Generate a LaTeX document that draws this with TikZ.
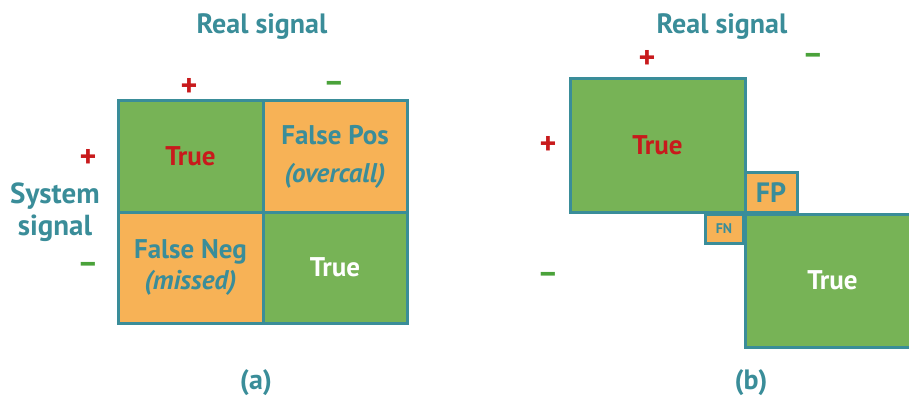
\documentclass[tikz,border=0pt]{standalone}
\usepackage{fontspec}
\setmainfont{PT Sans}
\usepackage{xcolor}
\usepackage{tikz}
\usetikzlibrary{positioning, calc}
\definecolor{tealtext}{HTML}{3A8D99}
\definecolor{cellgreen}{HTML}{77B356}
\definecolor{cellorange}{HTML}{F7B256}
\definecolor{plusred}{HTML}{C81A1C}
\definecolor{minusgreen}{HTML}{4AA23A}
\tikzset{
  cell/.style={draw=tealtext, line width=3pt, inner sep=0pt, align=center,
               font=\bfseries\fontsize{27}{32}\selectfont},
  truecell/.style={cell, fill=cellgreen},
  falsecell/.style={cell, fill=cellorange, text=tealtext},
  heading/.style={text=tealtext, font=\bfseries\fontsize{28}{32}\selectfont},
  plussign/.style={text=plusred, font=\bfseries\fontsize{32}{32}\selectfont},
  minussign/.style={text=minusgreen, font=\bfseries\fontsize{32}{32}\selectfont},
}

\begin{document}
\begin{tikzpicture}[x=1pt, y=-1pt]
    \useasboundingbox (0,0) rectangle (909,398);
    \clip (0,0) rectangle (909,398);
    % (a) full grid
    \node[heading] (reala) at (262,27) {Real signal};
    \node[plussign] (pa) at (189,87) {+};
    \node[minussign] (ma) at (334,87) {--};
    \node[plussign] (pla) at (88,158) {+};
    \node[minussign] (mla) at (88,268) {--};
    \node[heading, align=center, font=\bfseries\fontsize{29}{32}\selectfont] (sysa) at (55,212) {System\\signal};
    \node[truecell, text=plusred, minimum width=145pt, minimum height=111pt] (tpa) at (190.5,156.5) {True};
    \node[falsecell, minimum width=144pt, minimum height=111pt] (fpa) at (335,156.5)
      {False Pos\\[6pt]\textit{(overcall)}};
    \node[falsecell, minimum width=145pt, minimum height=111pt] (fna) at (190.5,267.5)
      {False Neg\\[-1pt]\textit{(missed)}};
    \node[truecell, text=white, minimum width=144pt, minimum height=111pt] (tna) at (335,267.5) {True};
    \node[heading] (capa) at (256,383) {(a)};
    % (b) shifted boxes
    \node[heading] (realb) at (722,27) {Real signal};
    \node[plussign] (pb) at (647,59) {+};
    \node[minussign] (mb) at (813,59) {--};
    \node[plussign] (plb) at (548,145) {+};
    \node[minussign] (mlb) at (548,278) {--};
    \node[truecell, text=plusred, minimum width=175pt, minimum height=133pt] (tpb) at (657.5,145.5) {True};
    \node[falsecell, minimum width=52pt, minimum height=40pt, font=\bfseries\fontsize{28}{30}\selectfont] (fpb) at (771,192.5) {FP};
    \node[falsecell, minimum width=38pt, minimum height=29pt, font=\bfseries\fontsize{14}{16}\selectfont] (fnb) at (724,228.5) {FN};
    \node[truecell, text=white, minimum width=175pt, minimum height=133pt] (tnb) at (832.5,280.5) {True};
    \node[heading] (capb) at (751,383) {(b)};
  \end{tikzpicture}
\end{document}
